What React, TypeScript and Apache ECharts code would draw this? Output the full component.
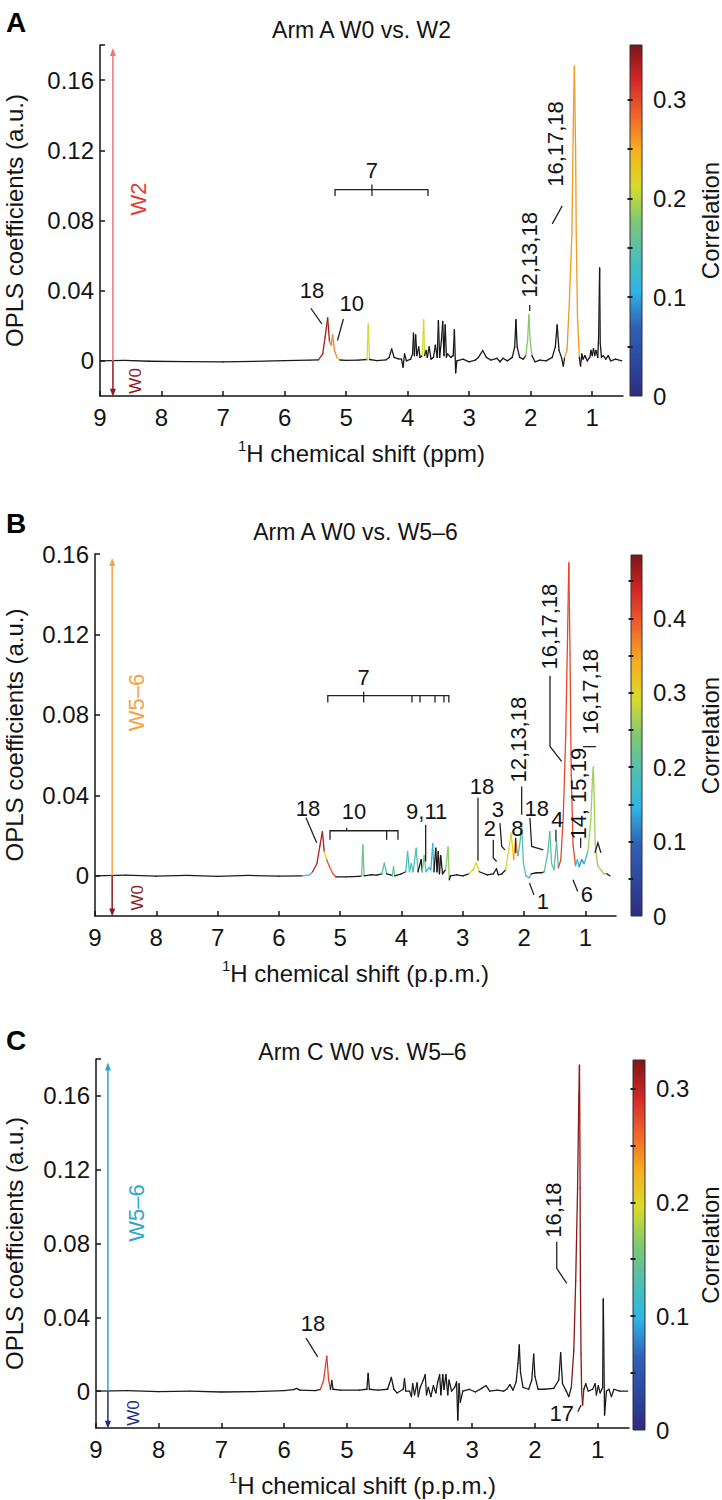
import React, { useEffect, useRef } from 'react';
import * as echarts from 'echarts';

type Pt = [number, number, number?];
type XY = [number, number];

const FONT = '"Liberation Sans", Arial, Helvetica, sans-serif';

// ---------- data ----------
const panelLetters = ['A', 'B', 'C'];
const panelTitles = ['Arm A W0 vs. W2', 'Arm A W0 vs. W5–6', 'Arm C W0 vs. W5–6'];
const xAxisUnits = ['ppm', 'p.p.m.', 'p.p.m.'];
const groupUp = ['W2', 'W5–6', 'W5–6'];
const groupDown = ['W0', 'W0', 'W0'];

const ppmTicks = [1, 2, 3, 4, 5, 6, 7, 8, 9];
const coefLabels = [0, 0.04, 0.08, 0.12, 0.16];
const coefTickMarks = [
  [0, 0.04, 0.08, 0.12, 0.16, 0.18],
  [0, 0.04, 0.08, 0.12, 0.16],
  [0, 0.04, 0.08, 0.12, 0.16, 0.18],
];
const coefMin = [-0.02, -0.02, -0.02];
const coefMax = [0.18, 0.16, 0.18];

const corrMax = [0.355, 0.485, 0.325];
const corrLabels = [
  [0, 0.1, 0.2, 0.3],
  [0, 0.1, 0.2, 0.3, 0.4],
  [0, 0.1, 0.2, 0.3],
];
const corrTickMarks = [
  [0.05, 0.1, 0.15, 0.2, 0.25, 0.3],
  [0.05, 0.1, 0.15, 0.2, 0.25, 0.3, 0.35, 0.4, 0.45],
  [0.05, 0.1, 0.15, 0.2, 0.25, 0.3],
];

// arrow position (ppm) and ends (coefficient)
const arrowPpm = [8.79, 8.72, 8.81];
const arrowTop = [0.176, 0.156, 0.176];
const arrowBottom = [-0.0182, -0.0182, -0.0182];

// spectra: [ppm, OPLS coefficient, correlation (only where coloured)]
const spectrumA: Pt[] = [
  [9.0, 0.0], [8.6, 0.0003], [8.2, -0.0002], [7.6, -0.0004], [7.0, -0.0006], [6.5, -0.0003], [6.0, 0.0002], [5.6, 0.0004],
  [5.45, 0.0006, 0.34], [5.38, 0.004, 0.34], [5.34, 0.014, 0.34], [5.3, 0.0245, 0.34], [5.27, 0.011, 0.27], [5.24, 0.009, 0.27],
  [5.22, 0.0148, 0.27], [5.19, 0.006, 0.27], [5.15, 0.002, 0.2], [5.1, 0.0005],
  [5.0, 0.0003], [4.8, 0.0004], [4.66, 0.0008, 0.21], [4.64, 0.0211, 0.21], [4.62, 0.0008],
  [4.5, 0.0002], [4.35, 0.0006], [4.3, 0.002], [4.26, 0.0068], [4.22, 0.002], [4.15, 0.0012], [4.1, 0.001], [4.075, -0.0036],
  [4.05, 0.004], [4.02, 0.0], [3.95, 0.001],
  [3.92, 0.004], [3.905, 0.0158], [3.89, 0.003], [3.87, 0.0148], [3.85, 0.003], [3.82, 0.008], [3.8, 0.002],
  [3.76, 0.003, 0.21], [3.74, 0.0235, 0.21], [3.725, 0.003],
  [3.7, 0.006], [3.68, 0.002], [3.65, 0.008], [3.62, 0.001], [3.58, 0.002], [3.55, 0.009], [3.52, 0.002], [3.5, 0.023],
  [3.48, 0.002], [3.45, 0.012], [3.43, 0.0225], [3.41, 0.003], [3.39, 0.0205], [3.37, 0.002], [3.35, 0.004], [3.3, 0.002],
  [3.26, 0.003], [3.24, 0.0178], [3.22, -0.0068], [3.2, 0.0],
  [3.1, 0.001], [3.0, -0.0005], [2.9, 0.0005], [2.85, 0.002], [2.78, 0.0059], [2.72, 0.002], [2.65, 0.0005], [2.55, 0.0015],
  [2.5, -0.0005], [2.45, 0.0015], [2.38, 0.0],
  [2.3, 0.002], [2.26, 0.008], [2.24, 0.0235], [2.22, 0.008], [2.18, 0.002], [2.12, 0.001],
  [2.08, 0.003, 0.18], [2.05, 0.012, 0.18], [2.03, 0.0264, 0.18], [2.01, 0.012, 0.18], [1.98, 0.003],
  [1.93, -0.0005], [1.85, 0.0005], [1.75, 0.0], [1.65, 0.002], [1.6, 0.008], [1.57, 0.0205], [1.54, 0.006], [1.5, 0.002],
  [1.47, -0.003],
  [1.45, 0.002, 0.26], [1.41, 0.006, 0.26], [1.37, 0.035, 0.26], [1.33, 0.073, 0.26], [1.31, 0.13, 0.26], [1.29, 0.168, 0.26],
  [1.27, 0.12, 0.26], [1.26, 0.073, 0.26], [1.24, 0.026, 0.26], [1.21, 0.002],
  [1.19, -0.003], [1.17, 0.004], [1.15, 0.001], [1.12, 0.003], [1.08, 0.0], [1.04, 0.002], [1.02, 0.006], [1.0, 0.003],
  [0.98, 0.007], [0.96, 0.003], [0.94, 0.006], [0.91, 0.002], [0.895, 0.015], [0.88, 0.053], [0.87, 0.01], [0.85, 0.002],
  [0.82, 0.003], [0.78, 0.001], [0.74, 0.003], [0.7, 0.0], [0.62, 0.001], [0.52, 0.0],
];

const spectrumB: Pt[] = [
  [9.0, 0.0], [8.5, 0.0003], [8.0, -0.0002], [7.5, 0.0002], [7.0, -0.0003], [6.5, 0.0002], [6.0, -0.0002],
  [5.62, 0.0, 0.16], [5.5, 0.0005, 0.16],
  [5.45, 0.002, 0.46], [5.38, 0.006, 0.46], [5.33, 0.015, 0.46], [5.29, 0.022, 0.46], [5.26, 0.012, 0.3], [5.22, 0.008, 0.4],
  [5.18, 0.005, 0.4], [5.12, 0.001, 0.4], [5.07, -0.0005],
  [4.9, -0.0005], [4.7, -0.0003], [4.65, 0.0, 0.22], [4.63, 0.0154, 0.22], [4.61, 0.0],
  [4.5, 0.0005], [4.4, 0.0003], [4.32, 0.001, 0.2], [4.28, 0.0063, 0.2], [4.24, 0.001], [4.18, 0.0005],
  [4.15, 0.0, 0.21], [4.13, 0.0045, 0.21], [4.11, 0.0], [4.0, 0.001],
  [3.93, 0.002, 0.19], [3.9, 0.0121, 0.19], [3.87, 0.002, 0.19], [3.84, 0.006, 0.19], [3.81, 0.002, 0.19], [3.76, 0.0137, 0.19],
  [3.73, 0.002], [3.68, 0.008], [3.66, 0.002, 0.22], [3.63, 0.01, 0.22], [3.6, 0.002, 0.15], [3.55, 0.004, 0.15],
  [3.52, 0.003, 0.15], [3.49, 0.016, 0.15], [3.47, 0.002],
  [3.44, 0.0137], [3.42, 0.002], [3.4, 0.012], [3.38, 0.001], [3.36, 0.01], [3.33, 0.001],
  [3.28, 0.003, 0.25], [3.24, 0.0143, 0.25], [3.22, -0.002], [3.2, 0.0],
  [3.1, 0.0005], [3.0, 0.0], [2.9, 0.001, 0.3], [2.83, 0.003, 0.3], [2.78, 0.0065, 0.3], [2.73, 0.002],
  [2.6, 0.0005], [2.5, 0.001], [2.45, 0.0035], [2.42, 0.0005], [2.36, 0.001],
  [2.3, 0.003, 0.3], [2.25, 0.013, 0.3], [2.21, 0.0212, 0.3], [2.17, 0.008, 0.36], [2.14, 0.018, 0.36], [2.1, 0.01, 0.2],
  [2.06, 0.018, 0.2], [2.04, 0.0262, 0.2], [2.01, 0.006, 0.2], [1.97, 0.0, 0.16], [1.92, -0.001, 0.16], [1.88, 0.001],
  [1.8, 0.0015], [1.72, 0.0015], [1.67, 0.002, 0.21], [1.61, 0.012, 0.21], [1.58, 0.022, 0.21], [1.55, 0.006, 0.21],
  [1.51, 0.003, 0.2], [1.47, 0.017, 0.2],
  [1.44, 0.004, 0.41], [1.4, 0.008, 0.41], [1.36, 0.03, 0.41], [1.32, 0.07, 0.41], [1.29, 0.12, 0.41], [1.27, 0.1556, 0.41],
  [1.25, 0.11, 0.41], [1.23, 0.05, 0.41], [1.2, 0.015, 0.41],
  [1.16, 0.005, 0.16], [1.13, 0.008, 0.16], [1.1, 0.0046, 0.12], [1.06, 0.008, 0.12], [1.02, 0.006, 0.16],
  [0.96, 0.012, 0.26], [0.91, 0.028, 0.26], [0.885, 0.048, 0.26], [0.87, 0.054, 0.26], [0.86, 0.044, 0.26],
  [0.84, 0.016, 0.26], [0.8, 0.005, 0.26], [0.75, 0.003, 0.26], [0.7, 0.001, 0.26], [0.65, 0.001], [0.6, 0.0],
];

const spectrumC: Pt[] = [
  [9.0, 0.0], [8.5, 0.0003], [8.0, -0.0003], [7.5, 0.0], [7.0, -0.0005], [6.5, -0.0003], [6.0, 0.0003], [5.85, 0.0008],
  [5.8, 0.0015], [5.75, 0.0005], [5.5, 0.0003],
  [5.42, 0.001, 0.28], [5.37, 0.006, 0.28], [5.32, 0.019, 0.28], [5.29, 0.006, 0.28], [5.26, 0.001],
  [5.24, 0.0056], [5.22, 0.001], [5.1, 0.0005], [4.8, 0.0005], [4.68, 0.001], [4.66, 0.0096], [4.64, 0.001], [4.5, 0.0005],
  [4.35, 0.001], [4.29, 0.0074], [4.25, 0.001], [4.2, -0.001], [4.1, 0.001], [4.08, 0.0067], [4.06, 0.0], [4.0, 0.0],
  [3.97, -0.003], [3.95, 0.004], [3.92, -0.002], [3.88, 0.0045], [3.86, -0.003], [3.83, 0.002], [3.78, 0.006], [3.75, 0.0089],
  [3.73, -0.002], [3.7, 0.002], [3.66, -0.003], [3.62, 0.003], [3.58, -0.001], [3.55, 0.005], [3.52, 0.0089], [3.5, -0.002],
  [3.47, 0.0089], [3.45, 0.001], [3.42, 0.0089], [3.39, -0.002], [3.37, 0.006], [3.33, 0.0], [3.28, 0.002], [3.25, 0.005],
  [3.23, -0.0157], [3.21, 0.004], [3.19, -0.006], [3.15, 0.0], [3.05, 0.001], [2.95, -0.0005], [2.85, 0.0015], [2.78, 0.003],
  [2.72, 0.0], [2.6, 0.0005], [2.5, 0.0], [2.45, 0.001], [2.4, 0.0035], [2.35, 0.0005], [2.3, 0.005], [2.27, 0.015],
  [2.25, 0.025], [2.23, 0.01], [2.19, 0.002], [2.1, 0.001], [2.05, 0.006], [2.02, 0.02], [2.0, 0.008], [1.95, 0.001],
  [1.85, 0.001], [1.7, 0.0015], [1.62, 0.006], [1.59, 0.0208], [1.56, 0.004], [1.5, 0.0], [1.46, -0.003],
  [1.42, 0.002, 0.32], [1.38, 0.022, 0.32], [1.35, 0.06, 0.32], [1.32, 0.11, 0.32], [1.3, 0.16, 0.32], [1.29, 0.1767, 0.32],
  [1.285, 0.15, 0.32], [1.28, 0.11, 0.32], [1.275, 0.06, 0.32], [1.265, 0.02, 0.32], [1.255, 0.0, 0.32],
  [1.24, -0.0076, 0.32], [1.22, 0.001],
  [1.19, 0.004], [1.15, 0.0], [1.08, 0.001], [1.04, 0.004], [1.02, -0.002], [0.99, 0.003], [0.96, -0.001], [0.92, 0.002],
  [0.91, 0.05], [0.89, -0.013], [0.86, 0.0], [0.82, 0.001], [0.78, -0.003], [0.74, 0.001], [0.65, 0.0], [0.52, 0.0],
];
const spectra = [spectrumA, spectrumB, spectrumC];

// annotations (label text, anchor in [ppm, coefficient], vertical?)
type Label = { text: string; at: XY; rot?: boolean };
const labelsA: Label[] = [
  { text: '7', at: [4.58, 0.1083] },
  { text: '18', at: [5.553, 0.0401] },
  { text: '10', at: [4.907, 0.0325] },
  { text: '12,13,18', at: [2.016, 0.0604], rot: true },
  { text: '16,17,18', at: [1.602, 0.1236], rot: true },
];
const leadersA: XY[][] = [
  [[5.18, 0.094], [5.18, 0.0976], [3.67, 0.0976], [3.67, 0.094]],
  [[4.58, 0.1005], [4.58, 0.094]],
  [[5.574, 0.03], [5.395, 0.0211]],
  [[5.044, 0.0239], [5.141, 0.0116]],
  [[2.016, 0.0318], [2.016, 0.0285]],
  [[1.65, 0.0781], [1.488, 0.0883]],
];
const labelsB: Label[] = [
  { text: '7', at: [4.617, 0.0985] },
  { text: '10', at: [4.775, 0.0318] },
  { text: '18', at: [5.525, 0.0333] },
  { text: '9,11', at: [3.589, 0.032] },
  { text: '18', at: [2.687, 0.0443] },
  { text: '3', at: [2.426, 0.0328] },
  { text: '2', at: [2.556, 0.0234] },
  { text: '8', at: [2.111, 0.0237] },
  { text: '12,13,18', at: [2.083, 0.0677], rot: true },
  { text: '18', at: [1.794, 0.0337] },
  { text: '4', at: [1.458, 0.0279] },
  { text: '16,17,18', at: [1.577, 0.1239], rot: true },
  { text: '14, 15,19', at: [1.104, 0.0408], rot: true },
  { text: '16,17,18', at: [0.909, 0.0915], rot: true },
  { text: '1', at: [1.692, -0.0128] },
  { text: '6', at: [0.974, -0.0095] },
];
const leadersB: XY[][] = [
  [[5.202, 0.0861], [5.202, 0.0896], [3.227, 0.0896], [3.227, 0.0861]],
  [[4.617, 0.0915], [4.617, 0.0861]],
  [[3.829, 0.0896], [3.829, 0.0861]],
  [[3.698, 0.0896], [3.698, 0.0861]],
  [[3.453, 0.0896], [3.453, 0.0861]],
  [[3.307, 0.0896], [3.307, 0.0861]],
  [[5.166, 0.0179], [5.166, 0.0224], [4.057, 0.0224], [4.057, 0.0179]],
  [[4.894, 0.0239], [4.894, 0.0224]],
  [[4.242, 0.0224], [4.242, 0.0179]],
  [[5.558, 0.0289], [5.383, 0.0164]],
  [[3.605, 0.0254], [3.605, 0.0071]],
  [[2.752, 0.0388], [2.752, 0.0075]],
  [[2.393, 0.0262], [2.365, 0.0146], [2.312, 0.0129]],
  [[2.502, 0.0179], [2.502, 0.0088], [2.447, 0.0071]],
  [[2.137, 0.0189], [2.137, 0.0113]],
  [[2.039, 0.0444], [2.039, 0.0303]],
  [[1.904, 0.0287], [1.876, 0.0146], [1.687, 0.0129]],
  [[1.48, 0.0229], [1.48, 0.0171]],
  [[1.577, 0.0995], [1.577, 0.0643], [1.387, 0.0569]],
  [[1.077, 0.0189], [1.077, 0.0139]],
  [[1.039, 0.0642], [0.827, 0.0642]],
  [[1.912, -0.0036], [1.839, -0.0095]],
  [[1.202, -0.002], [1.124, -0.0078]],
  [[0.844, 0.0114], [0.795, 0.0164], [0.746, 0.0114]],
];
const labelsC: Label[] = [
  { text: '18', at: [5.539, 0.0369] },
  { text: '16,18', at: [1.711, 0.0981], rot: true },
  { text: '17', at: [1.572, -0.0121] },
];
const leadersC: XY[][] = [
  [[5.651, 0.0287], [5.464, 0.0186]],
  [[1.652, 0.0809], [1.652, 0.0665], [1.493, 0.0584]],
  [[1.316, -0.0112], [1.265, -0.0076]],
];
const labels = [labelsA, labelsB, labelsC];
const leaders = [leadersA, leadersB, leadersC];
const upLabelAt: XY[] = [[8.382, 0.0923], [8.331, 0.0861], [8.362, 0.0965]];
const downLabelAt: XY[] = [[8.415, -0.0114], [8.299, -0.0109], [8.402, -0.0119]];

// ---------- layout & style ----------
const grids = [
  { left: 100, top: 45, width: 523, height: 351 },
  { left: 95, top: 554, width: 521, height: 362 },
  { left: 96, top: 1059, width: 533, height: 369 },
];
const bars = [
  { left: 630, top: 45, width: 12, height: 351 },
  { left: 631, top: 555, width: 11, height: 361 },
  { left: 633, top: 1060, width: 12, height: 370 },
];
const titleY = [30, 532, 1052];
const letterY = [22, 523, 1040];
const upColor = ['#ef7474', '#f5a33e', '#2ea6cf'];
const upTextColor = ['#e63c36', '#f5a33e', '#2ea6cf'];
const downColor = ['#8b1c1c', '#8b1c1c', '#1f2f7c'];
const palette = ['#2c2c7e', '#2c48a0', '#2f62b8', '#2fb5e6', '#4fbfb3', '#80c872', '#d8dc2a', '#f6b01e', '#f1652a', '#d42627', '#7d1518'];
const INK = '#141414';
const LINE_INK = '#1a1a1a';

function toSegments(pts: Pt[]) {
  const out: number[][] = [];
  for (let i = 0; i < pts.length - 1; i++) {
    const a = pts[i];
    const b = pts[i + 1];
    out.push([a[0], a[1], b[0], b[1], a[2] == null ? -1 : a[2]]);
  }
  return out;
}

function buildOption() {
  const grid: any[] = [];
  const xAxis: any[] = [];
  const yAxis: any[] = [];
  const series: any[] = [];
  const visualMap: any[] = [];
  const axisLineStyle = { color: INK, width: 1.5 };

  for (let i = 0; i < 3; i++) {
    grid.push({ ...grids[i], containLabel: false });
    xAxis.push({
      gridIndex: i, type: 'value', min: 0.5, max: 9, inverse: true,
      axisLine: { show: true, onZero: false, lineStyle: axisLineStyle },
      axisTick: { show: true, inside: true, length: 5, customValues: ppmTicks, lineStyle: axisLineStyle },
      axisLabel: { show: true, customValues: ppmTicks, fontSize: 24, color: INK, margin: 9, fontFamily: FONT },
      splitLine: { show: false },
    });
    yAxis.push({
      gridIndex: i, type: 'value', min: coefMin[i], max: coefMax[i],
      axisLine: { show: true, onZero: false, lineStyle: axisLineStyle },
      axisTick: { show: true, inside: true, length: 5, customValues: coefTickMarks[i], lineStyle: axisLineStyle },
      axisLabel: { show: true, customValues: coefLabels, fontSize: 24, color: INK, margin: 6, fontFamily: FONT },
      splitLine: { show: false },
    });
  }
  for (let i = 0; i < 3; i++) {
    grid.push({ ...bars[i], containLabel: false });
    xAxis.push({ gridIndex: 3 + i, type: 'value', min: 0, max: 1, show: false });
  }
  for (let i = 0; i < 3; i++) {
    yAxis.push({
      gridIndex: 3 + i, type: 'value', min: 0, max: corrMax[i], position: 'right', z: 10,
      axisLine: { show: false },
      axisTick: { show: true, inside: true, length: 2.5, customValues: corrTickMarks[i], lineStyle: { color: '#222', width: 2 } },
      axisLabel: { show: true, customValues: corrLabels[i], fontSize: 24, color: INK, margin: 11, fontFamily: FONT },
      splitLine: { show: false },
    });
  }
  for (let i = 0; i < 3; i++) {
    yAxis.push({
      gridIndex: 3 + i, type: 'value', min: 0, max: corrMax[i], position: 'left', z: 10,
      axisLine: { show: false },
      axisTick: { show: true, inside: true, length: 2.5, customValues: corrTickMarks[i], lineStyle: { color: '#222', width: 2 } },
      axisLabel: { show: false },
      splitLine: { show: false },
    });
  }

  for (let i = 0; i < 3; i++) {
    series.push({
      type: 'custom', xAxisIndex: i, yAxisIndex: i, clip: true, silent: true,
      dimensions: ['x1', 'y1', 'x2', 'y2', 'corr'],
      encode: { x: [0, 2], y: [1, 3] },
      data: toSegments(spectra[i]),
      renderItem: (params: any, api: any) => {
        const a = api.coord([api.value(0), api.value(1)]);
        const b = api.coord([api.value(2), api.value(3)]);
        const coloured = api.value(4) >= 0;
        return {
          type: 'line',
          shape: { x1: a[0], y1: a[1], x2: b[0], y2: b[1] },
          style: { stroke: coloured ? api.visual('color') : LINE_INK, lineWidth: 1.3, lineCap: 'round' },
        };
      },
    });
    visualMap.push({
      type: 'continuous', show: false, seriesIndex: i, dimension: 4, min: 0, max: corrMax[i],
      inRange: { color: palette }, outOfRange: { color: [LINE_INK] },
    });
  }
  for (let i = 0; i < 3; i++) {
    series.push({
      type: 'line', xAxisIndex: i, yAxisIndex: i, silent: true, animation: false,
      lineStyle: { color: upColor[i], width: 1.5 }, itemStyle: { color: upColor[i] },
      data: [
        { value: [arrowPpm[i], 0], symbol: 'none' },
        { value: [arrowPpm[i], arrowTop[i]], symbol: 'triangle', symbolSize: [6, 8] },
      ],
    });
    series.push({
      type: 'line', xAxisIndex: i, yAxisIndex: i, silent: true, animation: false,
      lineStyle: { color: downColor[i], width: 1.5 }, itemStyle: { color: downColor[i] },
      data: [
        { value: [arrowPpm[i], 0], symbol: 'none' },
        { value: [arrowPpm[i], arrowBottom[i]], symbol: 'triangle', symbolSize: [6, 8], symbolRotate: 180 },
      ],
    });
  }

  return {
    animation: false,
    backgroundColor: '#ffffff',
    textStyle: { fontFamily: FONT },
    grid, xAxis, yAxis, series, visualMap,
  };
}

function text(x: number, y: number, t: string, o: any = {}) {
  return {
    type: 'text', x, y, rotation: o.rot ? Math.PI / 2 : 0, z: 20, silent: true,
    style: {
      text: t, fontSize: o.size ?? 22, fontFamily: FONT, fill: o.color ?? INK,
      fontWeight: o.bold ? 'bold' : 'normal', align: 'center', verticalAlign: 'middle',
      rich: o.rich,
    },
  };
}

function buildGraphics(chart: any) {
  const els: any[] = [];
  for (let i = 0; i < 3; i++) {
    const g = grids[i];
    const b = bars[i];
    const px = (p: XY) => chart.convertToPixel({ gridIndex: i }, p) as number[];
    const cx = g.left + g.width / 2;
    const cy = g.top + g.height / 2;
    els.push(text(16, letterY[i], panelLetters[i], { size: 28, bold: true, color: '#000' }));
    els.push(text(cx, titleY[i], panelTitles[i], { size: 23 }));
    els.push(text(14, cy, 'OPLS coefficients (a.u.)', { rot: true, size: 24 }));
    els.push(text(cx, g.top + g.height + 57, `{s|1}{m|H chemical shift (${xAxisUnits[i]})}`, {
      size: 24,
      rich: {
        s: { fontSize: 15, padding: [0, 0, 16, 0], fontFamily: FONT, fill: INK },
        m: { fontSize: 24, fontFamily: FONT, fill: INK },
      },
    }));
    els.push(text(710, b.top + b.height / 2, 'Correlation', { rot: true, size: 24 }));
    // colour bar
    els.push({
      type: 'rect', z: 1, silent: true,
      shape: { x: b.left, y: b.top, width: b.width, height: b.height },
      style: {
        fill: new echarts.graphic.LinearGradient(0, 1, 0, 0,
          palette.map((c, k) => ({ offset: k / (palette.length - 1), color: c }))),
        stroke: '#333', lineWidth: 1,
      },
    });
    // group labels beside the arrow
    const up = px(upLabelAt[i]);
    els.push(text(up[0], up[1], groupUp[i], { rot: true, size: 22, color: upTextColor[i] }));
    const dn = px(downLabelAt[i]);
    els.push(text(dn[0], dn[1], groupDown[i], { rot: true, size: 17, color: downColor[i] }));
    // annotations
    for (const l of labels[i]) {
      const p = px(l.at);
      els.push(text(p[0], p[1], l.text, { rot: l.rot, size: 22 }));
    }
    for (const line of leaders[i]) {
      els.push({
        type: 'polyline', z: 20, silent: true,
        shape: { points: line.map((pt) => px(pt)) },
        style: { stroke: '#222', lineWidth: 1.3, fill: null },
      });
    }
  }
  return { elements: els };
}

export default function App() {
  const ref = useRef<HTMLDivElement>(null);
  useEffect(() => {
    if (!ref.current) return;
    const chart = echarts.init(ref.current, null, { renderer: 'svg' });
    chart.setOption(buildOption() as any);
    chart.setOption({ graphic: buildGraphics(chart) } as any);
    return () => chart.dispose();
  }, []);
  return (
    <div
      ref={ref}
      style={{ position: 'absolute', left: 0, top: 0, width: 722, height: 1500, background: '#fff' }}
    />
  );
}
